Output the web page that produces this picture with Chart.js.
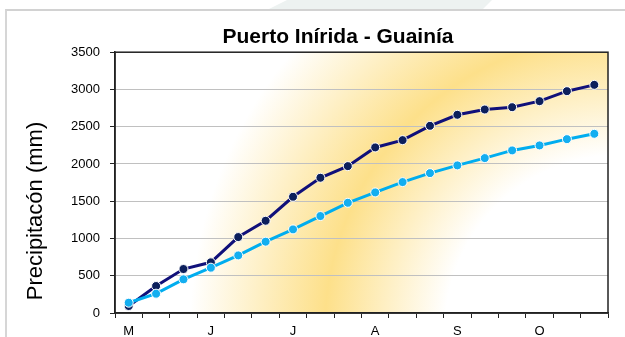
<!DOCTYPE html>
<html>
<head>
<meta charset="utf-8">
<script src="https://cdn.jsdelivr.net/npm/chart.js@4/dist/chart.umd.min.js"></script>
<style>
body{margin:0;background:#fff;}
#wrap{position:relative;width:625px;height:337px;overflow:hidden;}
#frame{position:absolute;left:5px;top:9px;width:700px;height:400px;border-top:2px solid #d2d2d2;border-left:2px solid #d6d6d6;}
#mark{position:absolute;left:0;top:0;width:625px;height:10px;background:#edf2f1;clip-path:polygon(287px 0,492px 0,482px 10px,267px 10px);}
canvas{position:absolute;left:0;top:0;}
</style>
</head>
<body>
<div id="wrap">
<div id="mark"></div>
<div id="frame"></div>
<canvas id="chart" width="625" height="337"></canvas>
</div>
<script>
const months = ["M","","","J","","","J","","","A","","","S","","","O","",""]
const acumulado = [94,362,590,680,1019,1238,1560,1815,1971,2222,2320,2512,2660,2731,2762,2843,2977,3062]
const promedio = [138,259,452,608,773,957,1122,1301,1479,1618,1757,1877,1981,2079,2182,2249,2333,2405]
const yTicks = [0,500,1000,1500,2000,2500,3000,3500]

/* ================================
   BACKGROUND + FRAME + Y LABEL
================================ */

const plotDecor = {
id:"plotDecor",
beforeDraw(chart){
const a = chart.chartArea
const ctx = chart.ctx
const cx = a.right+12
const cy = a.bottom+17
const g = ctx.createRadialGradient(cx,cy,0,cx,cy,430)
g.addColorStop(0,"#ffffff")
g.addColorStop(175/430,"#ffffff")
g.addColorStop(295/430,"#fde08a")
g.addColorStop(1,"#ffffff")
ctx.save()
ctx.fillStyle = g
ctx.fillRect(a.left,a.top,a.right-a.left,a.bottom-a.top)
ctx.restore()
},
beforeDatasetsDraw(chart){
const a = chart.chartArea
const ctx = chart.ctx
ctx.save()
ctx.strokeStyle = "#222"
ctx.lineWidth = 1.5
ctx.strokeRect(a.left,a.top,a.right-a.left,a.bottom-a.top)
ctx.restore()
},
afterDraw(chart){
const ctx = chart.ctx
ctx.save()
ctx.translate(35.5,211)
ctx.rotate(-Math.PI/2)
ctx.font = "22px 'Liberation Sans', Arial, sans-serif"
ctx.fillStyle = "#000"
ctx.textAlign = "center"
ctx.textBaseline = "middle"
ctx.fillText("Precipitacón (mm)",0,0)
ctx.restore()
}
}

/* ================================
   CHART
================================ */

new Chart(
document.getElementById("chart"),
{
type:"line",
data:{
labels:months,
datasets:[{
label:"Acumulado",
data:acumulado,
borderColor:"#10107a",
borderWidth:3,
pointBackgroundColor:"#0c1f5c",
pointBorderColor:"#ffffff",
pointBorderWidth:1,
pointRadius:4.5,
tension:0,
order:2
},{
label:"Promedio",
data:promedio,
borderColor:"#00adef",
borderWidth:3,
pointBackgroundColor:"#13aef0",
pointBorderColor:"#ffffff",
pointBorderWidth:1,
pointRadius:4.5,
tension:0,
order:1
}]
},
options:{
responsive:false,
animation:false,
events:[],
layout:{padding:{left:68,right:17,top:0,bottom:0}},
plugins:{
legend:{display:false},
tooltip:{enabled:false},
title:{
display:true,
text:"Puerto Inírida - Guainía",
color:"#000",
font:{family:"'Liberation Sans', Arial, sans-serif",size:21,weight:"bold"},
padding:{top:25,bottom:2}
}
},
scales:{
x:{
offset:true,
afterFit(s){ s.height = 24 },
grid:{offset:true,drawOnChartArea:false,drawTicks:true,tickLength:5,tickColor:"#222"},
border:{color:"#222",width:1.5},
ticks:{autoSkip:false,maxRotation:0,padding:6,color:"#000",font:{family:"'Liberation Sans', Arial, sans-serif",size:13}}
},
y:{
min:0,
max:3500,
afterFit(s){ s.width = 47 },
afterBuildTicks(s){ s.ticks = yTicks.map(v=>({value:v})) },
grid:{color:"#c0c0c0",lineWidth:1,tickLength:5,tickColor:"#222"},
border:{color:"#222",width:1.5},
ticks:{padding:10,color:"#000",font:{family:"'Liberation Sans', Arial, sans-serif",size:13},callback:v=>String(v)}
}
}
},
plugins:[plotDecor]
})
</script>
</body>
</html>
